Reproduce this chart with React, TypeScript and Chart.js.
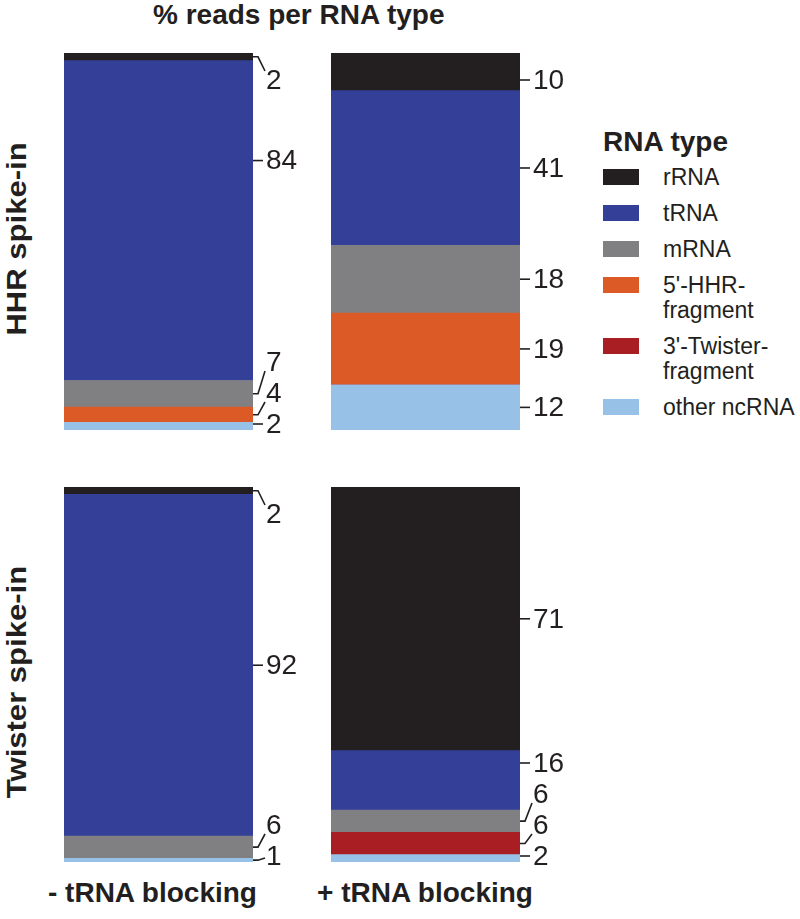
import React, { useEffect, useRef } from "react";
import { Chart, registerables } from "chart.js";

Chart.register(...registerables);

// ---------- data ----------
const titleText = "% reads per RNA type";
const spikeIns = ["HHR spike-in", "Twister spike-in"];
const conditions = ["- tRNA blocking", "+ tRNA blocking"];
// panel order: HHR -, HHR +, Twister -, Twister +
const panelNames = ["HHR / - tRNA blocking", "HHR / + tRNA blocking", "Twister / - tRNA blocking", "Twister / + tRNA blocking"];

const rnaTypes = ["rRNA", "tRNA", "mRNA", "5'-HHR-fragment", "3'-Twister-fragment", "other ncRNA"];
const legendLines = [["rRNA"], ["tRNA"], ["mRNA"], ["5'-HHR-", "fragment"], ["3'-Twister-", "fragment"], ["other ncRNA"]];
const typeColors = ["#231f20", "#343f98", "#808083", "#dc5a26", "#a81e22", "#97c1e7"];

const rRNA = [2, 10, 2, 71];
const tRNA = [84, 41, 92, 16];
const mRNA = [7, 18, 6, 6];
const hhrFragment = [4, 19, 0, 0];
const twisterFragment = [0, 0, 0, 6];
const otherNcRNA = [2, 12, 1, 2];

const seriesValues = [rRNA, tRNA, mRNA, hhrFragment, twisterFragment, otherNcRNA];

// ---------- layout ----------
const FONT = '"Liberation Sans", Arial, Helvetica, sans-serif';
const INK = "#231f20";
const colLeft = [64, 331];
const colRight = [253, 520];
const rowTop = [53, 487];
const rowBottom = [430, 862];
const PAD_T = 30;
const PAD_B = 30;
const PAD_R = 75;

const segLabelPlugin = {
  id: "segLabels",
  afterDatasetsDraw(chart: any, _args: any, opts: any) {
    const ctx = chart.ctx;
    const items: any[] = [];
    chart.data.datasets.forEach((ds: any, i: number) => {
      const v = ds.data[0];
      if (!v) return;
      const el = chart.getDatasetMeta(i).data[0];
      if (!el) return;
      const p = el.getProps(["x", "y", "base", "width"], true);
      const top = Math.min(p.y, p.base);
      const bot = Math.max(p.y, p.base);
      const anchor = (top + bot) / 2;
      const shift = (opts.shift && opts.shift[ds.label]) || 0;
      items.push({ text: String(v), top, bot, anchor, want: anchor + shift, right: p.x + p.width / 2 });
    });
    items.sort((a, b) => a.anchor - b.anchor);
    const area = chart.chartArea;
    const minY = area.top + opts.topGap;
    const maxY = area.bottom - opts.bottomGap;
    const S = opts.spacing;
    const ys = items.map((it) => Math.min(Math.max(it.want, minY), maxY));
    for (let i = ys.length - 2; i >= 0; i--) ys[i] = Math.min(ys[i], ys[i + 1] - S);
    if (ys.length) ys[0] = Math.max(ys[0], minY);
    for (let i = 1; i < ys.length; i++) ys[i] = Math.max(ys[i], ys[i - 1] + S);

    ctx.save();
    ctx.strokeStyle = INK;
    ctx.fillStyle = INK;
    ctx.lineWidth = 1.6;
    ctx.font = `28px ${FONT}`;
    ctx.textAlign = "left";
    ctx.textBaseline = "middle";
    items.forEach((it, i) => {
      const y = ys[i];
      ctx.beginPath();
      if (y >= it.top - 1 && y <= it.bot + 1) {
        ctx.moveTo(it.right, y);
        ctx.lineTo(it.right + 10, y);
      } else {
        const d = y - it.anchor;
        const endY = y - Math.sign(d) * Math.min(9, Math.abs(d) * 0.5);
        ctx.moveTo(it.right, it.anchor);
        ctx.lineTo(it.right + 5, it.anchor);
        ctx.lineTo(it.right + 12, endY);
      }
      ctx.stroke();
      ctx.fillText(it.text, it.right + 13, y + 1);
    });
    ctx.restore();
  },
};

function Panel({ index }: { index: number }) {
  const ref = useRef<HTMLCanvasElement | null>(null);
  const col = index % 2;
  const row = Math.floor(index / 2);
  const barW = colRight[col] - colLeft[col];
  const barH = rowBottom[row] - rowTop[row];
  const w = barW + PAD_R;
  const h = barH + PAD_T + PAD_B;

  useEffect(() => {
    if (!ref.current) return;
    // stack bottom -> top: reverse of legend order
    const order = [5, 4, 3, 2, 1, 0];
    const total = seriesValues.reduce((s, arr) => s + arr[index], 0);
    const chart = new Chart(ref.current, {
      type: "bar",
      data: {
        labels: [panelNames[index]],
        datasets: order.map((k) => ({
          label: rnaTypes[k],
          data: [seriesValues[k][index]],
          backgroundColor: typeColors[k],
          borderWidth: 0,
          barPercentage: 1,
          categoryPercentage: 1,
        })),
      },
      options: {
        responsive: false,
        animation: false,
        devicePixelRatio: 1,
        layout: { padding: { top: PAD_T, bottom: PAD_B, left: 0, right: PAD_R } },
        scales: {
          x: { display: false, stacked: true },
          y: { display: false, stacked: true, min: 0, max: total },
        },
        plugins: {
          legend: { display: false },
          tooltip: { enabled: false },
          segLabels: {
            topGap: 27,
            bottomGap: 6,
            spacing: 31,
            shift: index === 0 ? { tRNA: -60 } : {},
          },
        } as any,
      },
      plugins: [segLabelPlugin as any],
    });
    return () => chart.destroy();
  }, [index]);

  return (
    <canvas
      ref={ref}
      width={w}
      height={h}
      style={{ position: "absolute", left: colLeft[col], top: rowTop[row] - PAD_T, width: w, height: h }}
    />
  );
}

export default function App() {
  const rowCenters = [239, 682];
  const colLabelLeft = [48, 317];
  return (
    <div
      style={{
        position: "absolute",
        left: 0,
        top: 0,
        width: 800,
        height: 919,
        background: "#ffffff",
        fontFamily: FONT,
        color: INK,
        overflow: "hidden",
      }}
    >
      <div
        style={{
          position: "absolute",
          left: 153,
          top: 1,
          fontSize: 28,
          lineHeight: "28px",
          fontWeight: "bold",
          whiteSpace: "nowrap",
        }}
      >
        {titleText}
      </div>

      {spikeIns.map((s, i) => (
        <div
          key={s}
          style={{
            position: "absolute",
            left: 17 - 150,
            top: rowCenters[i] - 14,
            width: 300,
            height: 28,
            lineHeight: "28px",
            fontSize: 27,
            fontWeight: "bold",
            textAlign: "center",
            whiteSpace: "nowrap",
            transform: "rotate(-90deg) scaleX(1.15)",
            transformOrigin: "50% 50%",
          }}
        >
          {s}
        </div>
      ))}

      {conditions.map((c, i) => (
        <div
          key={c}
          style={{
            position: "absolute",
            left: colLabelLeft[i],
            top: 879,
            fontSize: 28,
            lineHeight: "28px",
            fontWeight: "bold",
            whiteSpace: "nowrap",
          }}
        >
          {c}
        </div>
      ))}

      {[0, 1, 2, 3].map((i) => (
        <Panel key={i} index={i} />
      ))}

      <div style={{ position: "absolute", left: 603, top: 127 }}>
        <div style={{ fontSize: 28, lineHeight: "30px", fontWeight: "bold", whiteSpace: "nowrap", marginBottom: 8 }}>
          RNA type
        </div>
        {rnaTypes.map((t, i) => (
          <div key={t} style={{ display: "flex", alignItems: "flex-start", marginBottom: 11 }}>
            <div
              style={{
                width: 36,
                height: 16,
                marginTop: 4,
                background: typeColors[i],
                flex: "0 0 auto",
              }}
            />
            <div style={{ marginLeft: 24, fontSize: 23, lineHeight: "25px", whiteSpace: "nowrap" }}>
              {legendLines[i].map((ln, j) => (
                <div key={j}>{ln}</div>
              ))}
            </div>
          </div>
        ))}
      </div>
    </div>
  );
}
